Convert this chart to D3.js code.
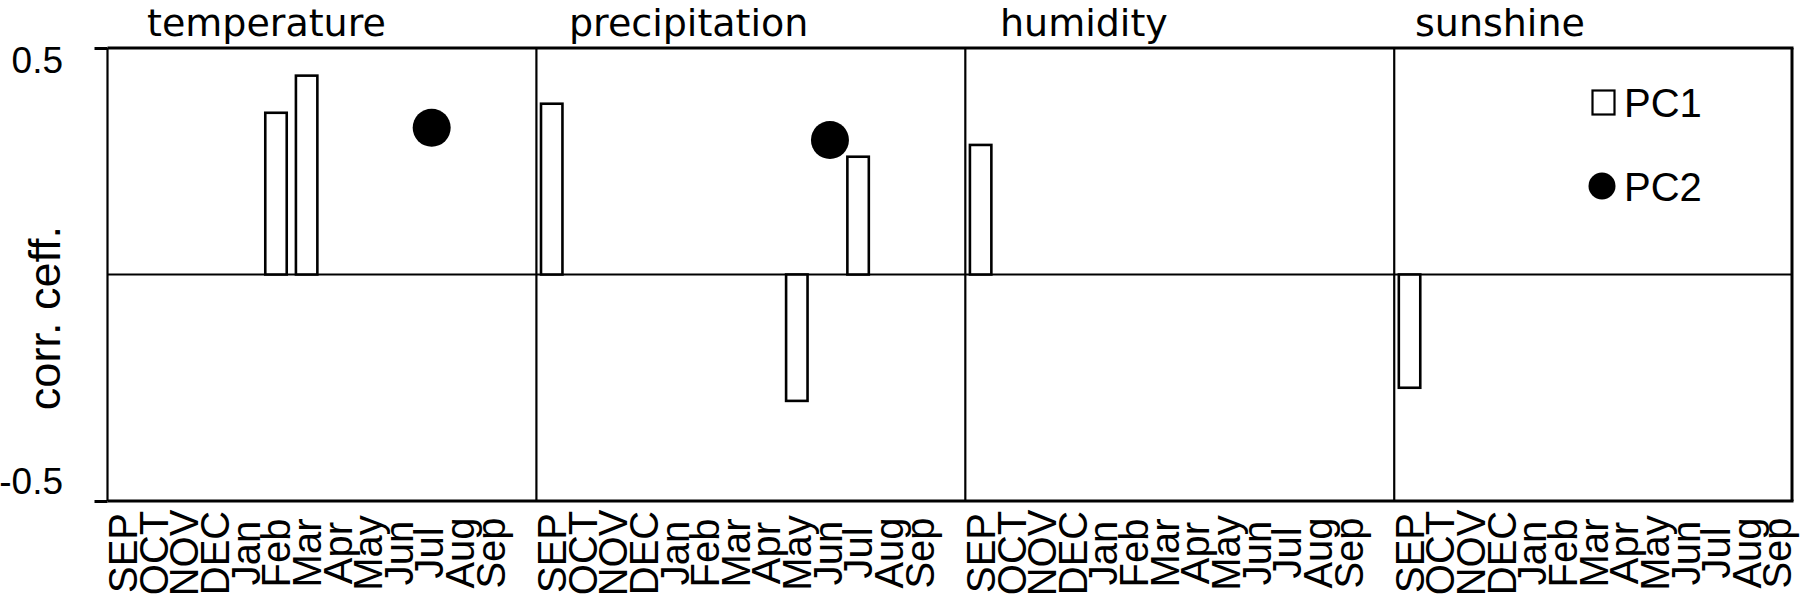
<!DOCTYPE html>
<html>
<head>
<meta charset="utf-8">
<script src="https://cdn.jsdelivr.net/npm/d3@7/dist/d3.min.js"></script>
<style>
  html, body { margin: 0; padding: 0; background: #fff; }
  svg { display: block; }
</style>
</head>
<body>
<svg id="chart" width="1801" height="600"></svg>
<script>
// ---- data ----
const months = ["SEP","OCT","NOV","DEC","Jan","Feb","Mar","Apr","May","Jun","Jul","Aug","Sep"];
const variables = ["temperature","precipitation","humidity","sunshine"];
// PC1 correlation coefficients (bars), null = not shown
const pc1Temperature   = [null,null,null,null,null,0.357,0.439,null,null,null,null,null,null];
const pc1Precipitation = [0.377,null,null,null,null,null,null,null,-0.279,null,0.260,null,null];
const pc1Humidity      = [0.286,null,null,null,null,null,null,null,null,null,null,null,null];
const pc1Sunshine      = [-0.250,null,null,null,null,null,null,null,null,null,null,null,null];
// PC2 correlation coefficients (dots)
const pc2Temperature   = [null,null,null,null,null,null,null,null,null,null,0.324,null,null];
const pc2Precipitation = [null,null,null,null,null,null,null,null,null,0.297,null,null,null];
const pc2Humidity      = [null,null,null,null,null,null,null,null,null,null,null,null,null];
const pc2Sunshine      = [null,null,null,null,null,null,null,null,null,null,null,null,null];
const yTickValues = [0.5, -0.5];
const yTickLabels = ["0.5", "-0.5"];
const legendLabels = ["PC1", "PC2"];

const pc1 = [pc1Temperature, pc1Precipitation, pc1Humidity, pc1Sunshine];
const pc2 = [pc2Temperature, pc2Precipitation, pc2Humidity, pc2Sunshine];

// ---- layout ----
const plotLeft = 107.5, plotRight = 1792.5, plotTop = 48, plotBottom = 501;
const slotsPerPanel = months.length + 1;
const nSlots = slotsPerPanel * variables.length - 1;
const titleX = [147, 569, 1000, 1415];

const svg = d3.select("#chart");

const x = d3.scaleBand()
  .domain(d3.range(nSlots))
  .range([plotLeft, plotRight])
  .paddingInner(0.3)
  .paddingOuter(0.15);

const y = d3.scaleLinear().domain([-0.5, 0.5]).range([plotBottom, plotTop]);

const slotOf = (p, i) => p * slotsPerPanel + i;

// flatten data
const bars = [], dots = [];
variables.forEach((v, p) => {
  pc1[p].forEach((val, i) => { if (val !== null) bars.push({ slot: slotOf(p, i), value: val }); });
  pc2[p].forEach((val, i) => { if (val !== null) dots.push({ slot: slotOf(p, i), value: val }); });
});

// zero line
svg.append("line")
  .attr("x1", plotLeft).attr("x2", plotRight)
  .attr("y1", y(0)).attr("y2", y(0))
  .attr("stroke", "#000").attr("stroke-width", 2);

// panel separators (left edge of each panel)
const panelEdges = variables.map((v, p) => x(slotOf(p, 0)) - x.step() * x.paddingOuter());
svg.selectAll("line.panel")
  .data(panelEdges)
  .enter().append("line")
  .attr("class", "panel")
  .attr("x1", d => d).attr("x2", d => d)
  .attr("y1", plotTop).attr("y2", plotBottom)
  .attr("stroke", "#000").attr("stroke-width", 2.2);

// right frame
svg.append("line")
  .attr("x1", plotRight - 0.5).attr("x2", plotRight - 0.5)
  .attr("y1", plotTop).attr("y2", plotBottom)
  .attr("stroke", "#000").attr("stroke-width", 3);

// top & bottom frame
[plotTop, plotBottom].forEach(yy => {
  svg.append("line")
    .attr("x1", plotLeft).attr("x2", plotRight + 1)
    .attr("y1", yy).attr("y2", yy)
    .attr("stroke", "#000").attr("stroke-width", 3);
});

// y axis
const yAxis = d3.axisLeft(y)
  .tickValues(yTickValues)
  .tickSize(13)
  .tickFormat((d, i) => yTickLabels[i]);
const gy = svg.append("g")
  .attr("transform", `translate(${plotLeft},0)`)
  .call(yAxis);
gy.select(".domain").remove();
gy.selectAll(".tick line").attr("stroke", "#000").attr("stroke-width", 3);
gy.selectAll(".tick text")
  .attr("x", -44.5)
  .attr("dy", null)
  .attr("y", d => d > 0 ? 24 : -8)
  .attr("fill", "#000")
  .style("font-family", "'Liberation Sans', Arial, sans-serif")
  .style("font-size", "37px");

// y title
svg.append("text")
  .attr("transform", "translate(60,318) rotate(-90)")
  .attr("text-anchor", "middle")
  .style("font-family", "'Liberation Sans', Arial, sans-serif")
  .style("font-size", "45px")
  .text("corr. ceff.");

// bars
svg.selectAll("rect.bar")
  .data(bars)
  .enter().append("rect")
  .attr("class", "bar")
  .attr("x", d => x(d.slot))
  .attr("width", x.bandwidth())
  .attr("y", d => Math.min(y(d.value), y(0)))
  .attr("height", d => Math.abs(y(d.value) - y(0)))
  .attr("fill", "#fff")
  .attr("stroke", "#000")
  .attr("stroke-width", 2.6);

// dots
svg.selectAll("circle.dot")
  .data(dots)
  .enter().append("circle")
  .attr("class", "dot")
  .attr("cx", d => x(d.slot) + x.bandwidth() / 2 + 2.5)
  .attr("cy", d => y(d.value))
  .attr("r", 19)
  .attr("fill", "#000");

// titles
svg.selectAll("text.title")
  .data(variables)
  .enter().append("text")
  .attr("class", "title")
  .attr("x", (d, i) => titleX[i])
  .attr("y", 36)
  .style("font-family", "'DejaVu Sans', sans-serif")
  .style("font-size", "38px")
  .text(d => d);

// month labels
const labels = [];
variables.forEach((v, p) => months.forEach((m, i) => labels.push({ slot: slotOf(p, i), text: m })));
svg.selectAll("text.month")
  .data(labels)
  .enter().append("text")
  .attr("class", "month")
  .attr("transform", d => `translate(${x(d.slot) + x.bandwidth() / 2 + 14.3},553) rotate(-90)`)
  .attr("text-anchor", "middle")
  .style("font-family", "'Liberation Sans', Arial, sans-serif")
  .style("font-size", "40px")
  .text(d => d.text);

// legend
const lg = svg.append("g");
lg.append("rect")
  .attr("x", 1592.5).attr("y", 90.5).attr("width", 22).attr("height", 24)
  .attr("fill", "#fff").attr("stroke", "#000").attr("stroke-width", 2.2);
lg.append("circle")
  .attr("cx", 1602).attr("cy", 186).attr("r", 13.5).attr("fill", "#000");
lg.selectAll("text")
  .data(legendLabels)
  .enter().append("text")
  .attr("x", 1624)
  .attr("y", (d, i) => i === 0 ? 117 : 201)
  .style("font-family", "'Liberation Sans', Arial, sans-serif")
  .style("font-size", "40px")
  .text(d => d);
</script>
</body>
</html>
